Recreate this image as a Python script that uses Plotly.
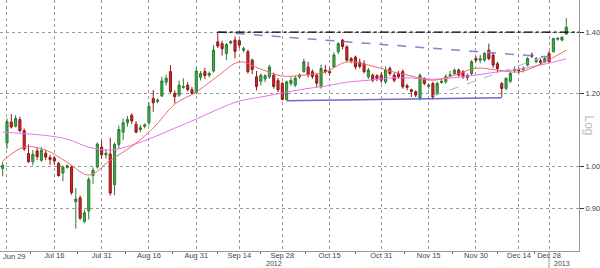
import math
import pandas as pd
import plotly.graph_objects as go

# ---------------- data ----------------
holidays = ["2012-08-15", "2012-12-24", "2012-12-25", "2012-12-26", "2012-12-31", "2013-01-01"]
dates = [d.strftime("%Y-%m-%d") for d in pd.bdate_range("2012-06-28", "2013-01-07")
         if d.strftime("%Y-%m-%d") not in holidays]

open_ = [0.995, 1.061, 1.118, 1.106, 1.125, 1.094, 1.033, 1.012, 1.040, 1.016,
         1.034, 1.023, 1.022, 1.008, 0.984, 0.998, 0.999, 0.916, 0.925, 0.872,
         0.895, 0.978, 0.999, 1.050, 1.030, 1.032, 0.956, 1.057, 1.090, 1.116,
         1.137, 1.112, 1.097, 1.106, 1.116, 1.186, 1.177, 1.193, 1.235, 1.268,
         1.201, 1.196, 1.219, 1.226, 1.212, 1.203, 1.250, 1.268, 1.257, 1.270,
         1.366, 1.360, 1.327, 1.362, 1.372, 1.370, 1.338, 1.333, 1.305, 1.252,
         1.238, 1.245, 1.252, 1.257, 1.240, 1.231, 1.183, 1.231, 1.226, 1.252,
         1.268, 1.283, 1.268, 1.257, 1.221, 1.273, 1.268, 1.283, 1.333, 1.372,
         1.349, 1.310, 1.315, 1.298, 1.293, 1.252, 1.257, 1.255, 1.257, 1.236,
         1.278, 1.257, 1.262, 1.268, 1.224, 1.212, 1.206, 1.186, 1.247, 1.222,
         1.231, 1.201, 1.234, 1.236, 1.255, 1.262, 1.273, 1.268, 1.255, 1.262,
         1.310, 1.305, 1.305, 1.338, 1.322, 1.293, 1.231, 1.216, 1.238, 1.271,
         1.273, 1.275, 1.289, 1.322, 1.300, 1.303, 1.300, 1.327, 1.333, 1.375,
         1.372, 1.393]
high = [1.012, 1.128, 1.140, 1.137, 1.133, 1.100, 1.057, 1.042, 1.050, 1.050,
        1.042, 1.030, 1.026, 1.012, 1.003, 1.005, 1.003, 0.948, 0.930, 0.897,
        0.974, 0.998, 1.062, 1.068, 1.045, 1.075, 1.062, 1.108, 1.128, 1.135,
        1.143, 1.120, 1.110, 1.114, 1.175, 1.211, 1.186, 1.252, 1.258, 1.289,
        1.210, 1.240, 1.247, 1.235, 1.220, 1.280, 1.270, 1.280, 1.268, 1.355,
        1.401, 1.370, 1.362, 1.372, 1.385, 1.375, 1.350, 1.340, 1.310, 1.270,
        1.262, 1.260, 1.290, 1.265, 1.248, 1.236, 1.240, 1.250, 1.255, 1.262,
        1.310, 1.300, 1.275, 1.262, 1.290, 1.290, 1.280, 1.330, 1.365, 1.376,
        1.355, 1.315, 1.320, 1.310, 1.305, 1.280, 1.262, 1.260, 1.265, 1.285,
        1.285, 1.265, 1.270, 1.275, 1.230, 1.215, 1.210, 1.262, 1.250, 1.232,
        1.236, 1.236, 1.245, 1.260, 1.270, 1.278, 1.278, 1.273, 1.262, 1.305,
        1.318, 1.322, 1.332, 1.360, 1.330, 1.300, 1.235, 1.250, 1.268, 1.285,
        1.280, 1.285, 1.315, 1.330, 1.315, 1.310, 1.320, 1.335, 1.380, 1.382,
        1.385, 1.450]
low = [0.976, 1.045, 1.100, 1.103, 1.090, 1.040, 1.010, 1.003, 1.016, 1.012,
       1.016, 1.004, 1.005, 0.975, 0.964, 0.995, 0.932, 0.856, 0.875, 0.868,
       0.876, 0.958, 0.995, 1.020, 1.020, 0.930, 0.931, 1.047, 1.068, 1.105,
       1.112, 1.087, 1.090, 1.100, 1.109, 1.147, 1.172, 1.190, 1.225, 1.200,
       1.171, 1.190, 1.215, 1.207, 1.197, 1.198, 1.240, 1.245, 1.250, 1.265,
       1.345, 1.320, 1.305, 1.358, 1.310, 1.345, 1.330, 1.262, 1.260, 1.210,
       1.225, 1.235, 1.245, 1.215, 1.205, 1.180, 1.180, 1.224, 1.220, 1.245,
       1.265, 1.250, 1.245, 1.220, 1.215, 1.262, 1.255, 1.280, 1.325, 1.340,
       1.300, 1.295, 1.275, 1.278, 1.262, 1.245, 1.235, 1.238, 1.232, 1.230,
       1.255, 1.235, 1.245, 1.215, 1.210, 1.190, 1.190, 1.180, 1.225, 1.215,
       1.182, 1.195, 1.230, 1.230, 1.250, 1.258, 1.252, 1.245, 1.240, 1.255,
       1.298, 1.295, 1.300, 1.305, 1.280, 1.265, 1.190, 1.210, 1.232, 1.265,
       1.262, 1.265, 1.285, 1.312, 1.295, 1.290, 1.295, 1.295, 1.330, 1.370,
       1.368, 1.390]
close = [1.003, 1.119, 1.104, 1.128, 1.094, 1.045, 1.012, 1.031, 1.025, 1.042,
         1.024, 1.018, 1.014, 0.978, 0.998, 1.002, 0.937, 0.922, 0.879, 0.891,
         0.968, 0.991, 1.058, 1.030, 1.034, 0.936, 1.057, 1.097, 1.116, 1.125,
         1.121, 1.090, 1.102, 1.110, 1.163, 1.173, 1.181, 1.239, 1.247, 1.206,
         1.191, 1.226, 1.222, 1.212, 1.201, 1.270, 1.262, 1.256, 1.262, 1.338,
         1.352, 1.343, 1.357, 1.367, 1.334, 1.355, 1.343, 1.268, 1.275, 1.222,
         1.257, 1.255, 1.283, 1.222, 1.212, 1.183, 1.236, 1.240, 1.247, 1.258,
         1.300, 1.258, 1.253, 1.232, 1.278, 1.268, 1.265, 1.322, 1.360, 1.350,
         1.305, 1.303, 1.283, 1.285, 1.268, 1.273, 1.241, 1.247, 1.241, 1.273,
         1.262, 1.241, 1.252, 1.221, 1.219, 1.207, 1.196, 1.257, 1.231, 1.226,
         1.190, 1.231, 1.238, 1.252, 1.258, 1.273, 1.257, 1.252, 1.250, 1.300,
         1.305, 1.310, 1.327, 1.310, 1.289, 1.278, 1.216, 1.247, 1.262, 1.275,
         1.271, 1.278, 1.310, 1.318, 1.310, 1.298, 1.310, 1.300, 1.378, 1.378,
         1.382, 1.417]

# moving averages read at sample dates
ma_dates = ["2012-06-28", "2012-07-05", "2012-07-12", "2012-07-19", "2012-07-26",
            "2012-08-02", "2012-08-09", "2012-08-17", "2012-08-24", "2012-08-31",
            "2012-09-07", "2012-09-14", "2012-09-21", "2012-09-28", "2012-10-05",
            "2012-10-12", "2012-10-19", "2012-10-26", "2012-11-02", "2012-11-09",
            "2012-11-16", "2012-11-23", "2012-11-30", "2012-12-07", "2012-12-14",
            "2012-12-21", "2013-01-07"]
ma_fast = [1.014, 1.050, 1.042, 1.011, 0.979, 1.016, 1.052, 1.101, 1.169, 1.205,
           1.254, 1.299, 1.276, 1.254, 1.257, 1.267, 1.299, 1.289, 1.270, 1.254,
           1.241, 1.257, 1.279, 1.273, 1.267, 1.292, 1.338]
ma_slow = [1.090, 1.086, 1.081, 1.071, 1.050, 1.042, 1.055, 1.076, 1.101, 1.126,
           1.154, 1.178, 1.190, 1.202, 1.214, 1.223, 1.235, 1.241, 1.248, 1.248,
           1.244, 1.249, 1.257, 1.267, 1.276, 1.289, 1.309]

# trend lines (date, value) pairs
resist_start = ("2012-09-07", 1.40)
upper_line = [("2012-09-07", 1.40), ("2012-12-28", 1.315)]
rising_line = [("2012-11-16", 1.193), ("2012-12-28", 1.322)]
support_line = [("2012-10-01", 1.179), ("2012-12-10", 1.188)]

tick_dates = ["2012-06-29", "2012-07-16", "2012-07-31", "2012-08-16", "2012-08-31",
              "2012-09-14", "2012-09-28", "2012-10-15", "2012-10-31", "2012-11-15",
              "2012-11-30", "2012-12-14", "2012-12-28"]
tick_labels = ["Jun 29", "Jul 16", "Jul 31", "Aug 16", "Aug 31", "Sep 14", "Sep 28",
               "Oct 15", "Oct 31", "Nov 15", "Nov 30", "Dec 14", "Dec 28"]

y_ticks = [0.90, 1.00, 1.20, 1.40]
y_labels = ["0.90", "1.00", "1.20", "1.40"]

# ---------------- figure ----------------
pos = {d: i for i, d in enumerate(dates)}
x = [pos[d] for d in dates]
FONT = "Liberation Sans"
TXT = "#444444"
xr = [-0.625, 133.96]
major = [pos[d] for d in tick_dates]
minor_pos = [(a + b) / 2 for a, b in zip(major[:-1], major[1:])]

fig = go.Figure()
fig.add_trace(go.Scatter(x=[pos[d] for d in ma_dates], y=ma_slow, mode="lines",
                         line=dict(color="#ee70ee", width=1, shape="spline"), hoverinfo="skip"))
fig.add_trace(go.Scatter(x=[pos[d] for d in ma_dates], y=ma_fast, mode="lines",
                         line=dict(color="#f06a6a", width=1, shape="spline"), hoverinfo="skip"))
fig.add_trace(go.Scatter(x=[pos[d] for d, v in support_line], y=[v for d, v in support_line],
                         mode="lines", line=dict(color="#6b6bd0", width=1.5)))
fig.add_trace(go.Scatter(x=[pos[d] for d, v in rising_line], y=[v for d, v in rising_line],
                         mode="lines", line=dict(color="#aabbe0", width=1.2, dash="dash")))
fig.add_trace(go.Scatter(x=[pos[d] for d, v in upper_line], y=[v for d, v in upper_line],
                         mode="lines", line=dict(color="#8585c8", width=1.5, dash="dash")))
fig.add_trace(go.Candlestick(
    x=x, open=open_, high=high, low=low, close=close,
    increasing=dict(fillcolor="#3fae49", line=dict(color="#2c7a33", width=1)),
    decreasing=dict(fillcolor="#d8232a", line=dict(color="#8a1c1c", width=1)),
))
fig.add_shape(type="line", xref="x", yref="y", x0=pos[resist_start[0]], x1=xr[1],
              y0=resist_start[1], y1=resist_start[1],
              line=dict(color="#000000", width=1.2, dash="dashdot"))
# year separator below axis
fig.add_shape(type="line", xref="x", yref="paper", x0=pos["2012-12-28"], x1=pos["2012-12-28"],
              y0=0, y1=-17 / 251, line=dict(color="#999999", width=1))

fig.update_layout(
    width=600, height=268, margin=dict(l=0, r=19, t=0, b=17),
    paper_bgcolor="white", plot_bgcolor="white", showlegend=False,
    font=dict(family=FONT, size=8, color=TXT),
    xaxis=dict(range=xr, tickmode="array",
               tickvals=major,
               ticktext=[""] + tick_labels[1:],
               showgrid=True, gridcolor="#999999", griddash="dot", gridwidth=1,
               showline=True, linecolor="#999999", linewidth=1, ticks="",
               ticklabelstandoff=-3,
               minor=dict(tickmode="array", tickvals=minor_pos, ticks="outside",
                          ticklen=2, tickcolor="#666666", showgrid=False),
               rangeslider=dict(visible=False), zeroline=False,
               tickfont=dict(family=FONT, size=7.5, color=TXT)),
    yaxis=dict(type="log", side="right", range=[math.log10(0.8097), math.log10(1.5168)],
               tickmode="array", tickvals=y_ticks, ticktext=y_labels,
               showgrid=True, gridcolor="#999999", griddash="dot", gridwidth=1,
               showline=True, linecolor="#999999", linewidth=1,
               ticks="outside", ticklen=4, tickcolor="#333333",
               zeroline=False, tickfont=dict(family=FONT, size=7.5, color=TXT)),
)
fig.add_annotation(x=major[0], xref="x", xshift=8, y=0, yref="paper", yanchor="top",
                   yshift=1, text=tick_labels[0], showarrow=False,
                   font=dict(family=FONT, size=7.5, color=TXT))
fig.add_annotation(x=pos["2012-09-28"], xref="x", xshift=-8, y=-12 / 251, yref="paper",
                   yanchor="middle", text="2012", showarrow=False,
                   font=dict(family=FONT, size=7, color=TXT))
fig.add_annotation(x=pos["2012-12-28"], xref="x", xshift=13, y=-12 / 251, yref="paper",
                   yanchor="middle", text="2013", showarrow=False,
                   font=dict(family=FONT, size=7, color=TXT))
fig.add_annotation(x=1, xref="paper", xshift=10, xanchor="center", y=0.5, yref="paper",
                   yanchor="middle", text="Log", textangle=90, showarrow=False,
                   font=dict(family=FONT, size=12, color="#bbbbbb"))

fig.write_html("out.html")
